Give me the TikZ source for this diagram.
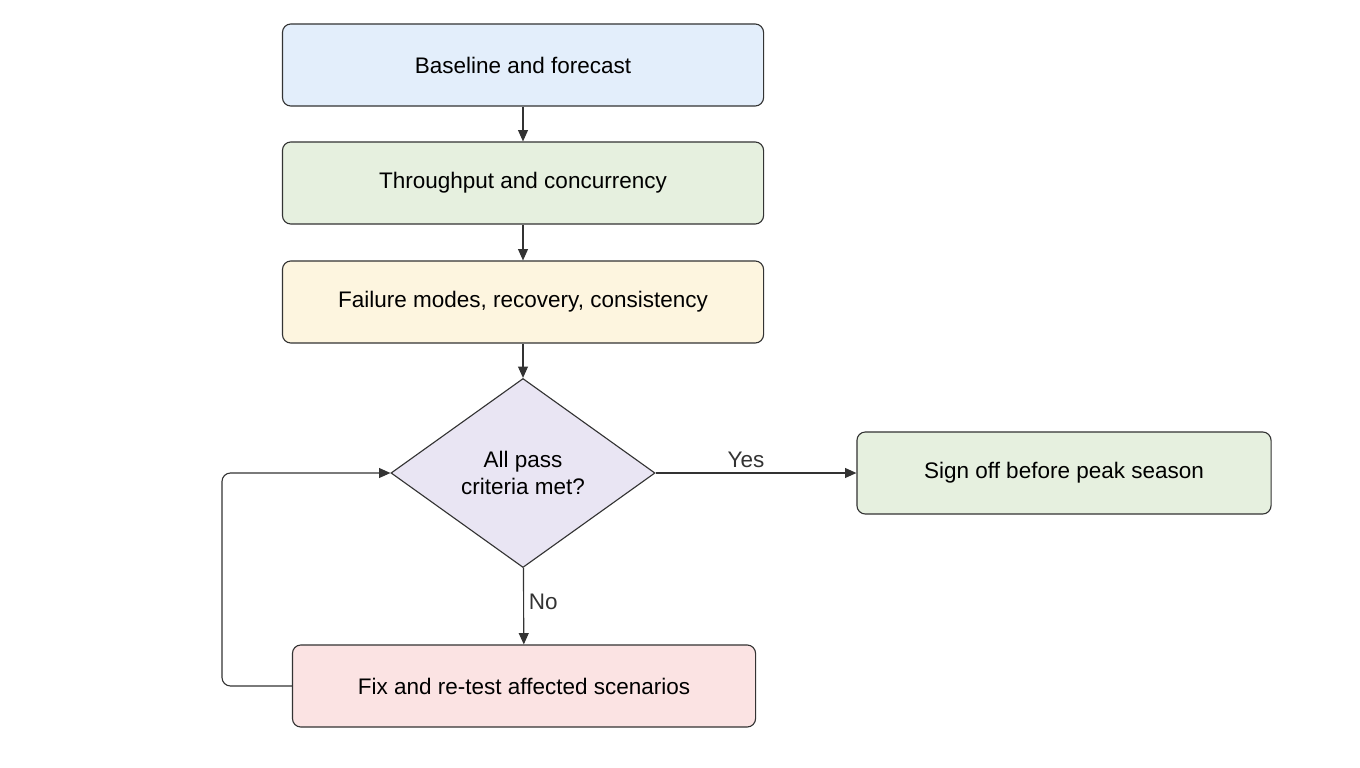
\documentclass[tikz,border=0pt]{standalone}
\usepackage{fontspec}
\setmainfont{Liberation Sans}
\usetikzlibrary{shapes.geometric,arrows.meta}
\definecolor{cblue}{HTML}{E3EEFB}
\definecolor{cgreen}{HTML}{E6F0DF}
\definecolor{cyellow}{HTML}{FDF5DF}
\definecolor{cpurple}{HTML}{E9E5F3}
\definecolor{cpink}{HTML}{FBE3E3}
\definecolor{cline}{HTML}{333333}
\tikzset{
  stepbox/.style={rectangle,rounded corners=6pt,draw=cline,thick,minimum height=2.05cm,font=\fontsize{16}{19}\selectfont,align=center},
  choice/.style={diamond,draw=cline,thick,fill=cpurple,minimum width=6.6cm,minimum height=4.725cm,inner sep=0pt,font=\fontsize{16}{19}\selectfont,align=center},
  flow/.style={-{Triangle[length=8pt,width=7pt]},thick,cline},
  lbl/.style={font=\fontsize{16}{19}\selectfont}
}
\begin{document}
\begin{tikzpicture}[x=0.025cm,y=-0.025cm]
\useasboundingbox (0,0) rectangle (1360,768);

\node[stepbox,fill=cblue,minimum width=12.025cm] (base) at (523,65) {Baseline and forecast};
\node[stepbox,fill=cgreen,minimum width=12.025cm] (thru) at (523,183) {Throughput and concurrency};
\node[stepbox,fill=cyellow,minimum width=12.025cm] (fail) at (523,302) {Failure modes, recovery, consistency};
\node[choice] (pass) at (523,473) {All pass\\criteria met?};
\node[stepbox,fill=cgreen,minimum width=10.35cm] (sign) at (1064,473) {Sign off before peak season};
\node[stepbox,fill=cpink,minimum width=11.575cm] (fix) at (524,686) {Fix and re-test affected scenarios};
\coordinate (loop) at (222,686);

\draw[flow] (base) -- (thru);
\draw[flow] (thru) -- (fail);
\draw[flow] (fail) -- (pass);
\draw[flow] (pass) -- node[lbl,above,pos=0.45] {Yes} (sign);
\draw[flow] (pass) -- node[lbl,right,pos=0.45] {No} (fix);
\draw[flow,rounded corners=6pt] (fix.west) -- (loop) |- (pass.west);
\end{tikzpicture}
\end{document}
